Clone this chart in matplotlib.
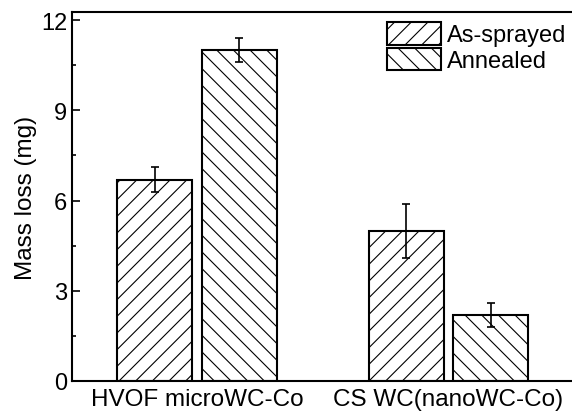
import matplotlib.pyplot as plt
import numpy as np

plt.rcParams['font.family'] = ['Liberation Sans', 'DejaVu Sans']
plt.rcParams['hatch.linewidth'] = 0.8

# Mass loss per coating, before and after annealing
categories = ['HVOF microWC-Co', 'CS WC(nanoWC-Co)']
as_sprayed = [6.7, 5.0]
as_sprayed_err = [0.4, 0.9]
annealed = [11.0, 2.2]
annealed_err = [0.4, 0.4]

fig = plt.figure(figsize=(5.72, 4.14), dpi=100)
ax = fig.add_axes([72 / 572, 32 / 414, 1 - 72 / 572, 369 / 414])

x = np.arange(len(categories))
w = 0.3
off = 0.168

ax.bar(x - off, as_sprayed, w, yerr=as_sprayed_err, capsize=3,
       color='white', edgecolor='black', linewidth=1.5, hatch='//',
       error_kw=dict(elinewidth=1.2, capthick=1.2), label='As-sprayed')
ax.bar(x + off, annealed, w, yerr=annealed_err, capsize=3,
       color='white', edgecolor='black', linewidth=1.5, hatch='\\\\',
       error_kw=dict(elinewidth=1.2, capthick=1.2), label='Annealed')

ax.set_xlim(-0.497, 1.491)
ax.set_ylim(0, 12.27)
ax.set_yticks([0, 3, 6, 9, 12])
ax.set_yticks(np.arange(1.5, 12, 3), minor=True)
ax.set_xticks(x)
ax.set_xticklabels(categories)
ax.set_ylabel('Mass loss (mg)', fontsize=17.5, labelpad=3)
ax.tick_params(axis='y', which='both', direction='in', labelsize=17)
ax.tick_params(axis='y', which='major', length=6, width=1.2)
ax.tick_params(axis='y', which='minor', length=3, width=1.2)
ax.tick_params(axis='x', length=0, labelsize=17.5, pad=5)
ax.spines['right'].set_visible(False)
for s in ['left', 'top', 'bottom']:
    ax.spines[s].set_linewidth(1.5)

ax.legend(loc='upper right', bbox_to_anchor=(1.016, 1.011), frameon=False,
          fontsize=17, handlelength=2.25, handleheight=1.1,
          labelspacing=0.05, handletextpad=0.25, borderaxespad=0.2)

fig.savefig('out.png', dpi=100)
